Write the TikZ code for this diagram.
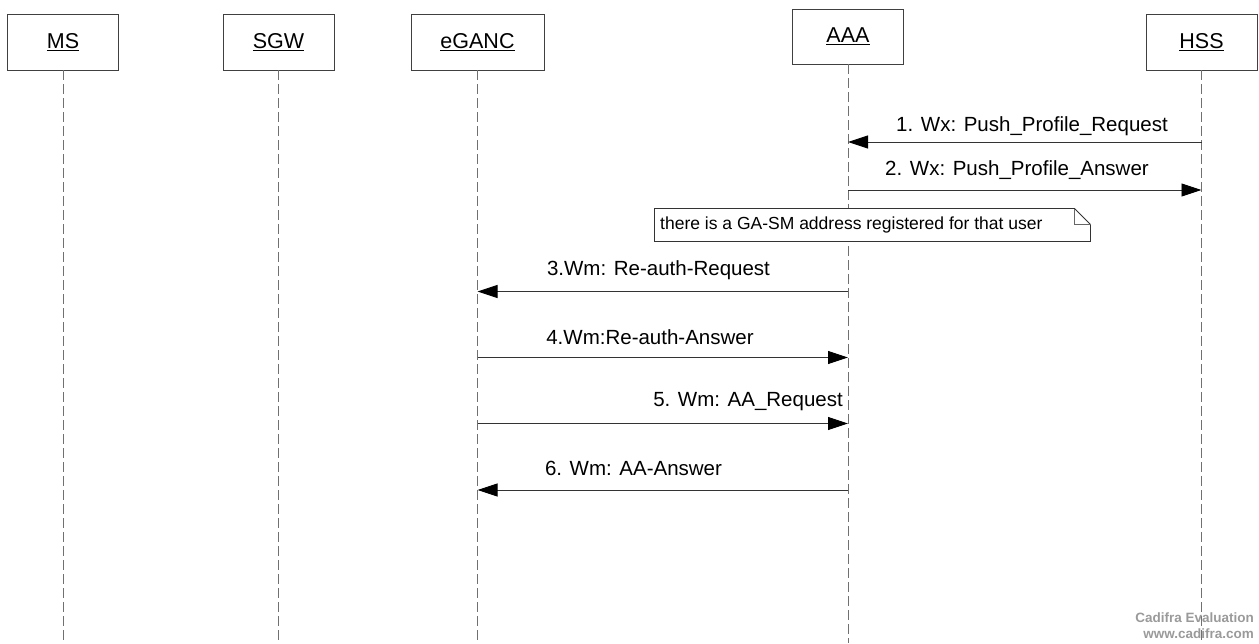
\documentclass[tikz,border=0pt]{standalone}
\usepackage{fontspec}
\setmainfont{Liberation Sans}
\usetikzlibrary{arrows.meta}
\definecolor{lifegray}{HTML}{707070}
\definecolor{wmgray}{HTML}{9A9A9A}
\tikzset{
  actor/.style={draw=black!75, line width=0.9pt, fill=white, minimum height=56pt, inner sep=0pt, font=\fontsize{21.5}{24}\selectfont},
  lifeline/.style={draw=lifegray, line width=0.9pt, dash pattern=on 10pt off 4pt},
  msg/.style={draw=black!80, line width=0.9pt, -{Triangle[length=20pt,width=13pt,fill=black,color=black]}},
  msglabel/.style={font=\fontsize{20.5}{24}\selectfont, inner sep=0pt, text=black},
  notebox/.style={draw=black!80, line width=0.9pt, fill=white},
  watermark/.style={font=\fontsize{13.5}{15}\selectfont\bfseries, text=wmgray, inner sep=0pt, anchor=east}
}
\begin{document}
\begin{tikzpicture}[x=1pt,y=-1pt]
\useasboundingbox (0,0) rectangle (1259,643);
% actors
\node[actor, minimum width=111pt] (ms) at (63,42) {\underline{MS}};
\node[actor, minimum width=111pt] (sgw) at (278.5,42) {\underline{SGW}};
\node[actor, minimum width=133pt] (eganc) at (477.5,42) {\underline{eGANC}};
\node[actor, minimum width=111pt, minimum height=55pt] (aaa) at (848,36.5) {\underline{AAA}};
\node[actor, minimum width=111pt] (hss) at (1201.5,42) {\underline{HSS}};
% lifeline ends
\coordinate (msE) at (63,643);
\coordinate (sgwE) at (278.5,643);
\coordinate (egancE) at (477.5,643);
\coordinate (aaaE) at (848,643);
\coordinate (hssE) at (1201.5,643);
\draw[lifeline] (ms.south) -- (msE);
\draw[lifeline] (sgw.south) -- (sgwE);
\draw[lifeline] (eganc.south) -- (egancE);
\draw[lifeline] (aaa.south) -- (aaaE);
\draw[lifeline] (hss.south) -- (hssE);
% message points
\coordinate (h1) at (1201.5,142); \coordinate (a1) at (848,142);
\coordinate (a2) at (848,190); \coordinate (h2) at (1201.5,190);
\coordinate (a3) at (848,291.5); \coordinate (e3) at (477.5,291.5);
\coordinate (e4) at (477.5,357.5); \coordinate (a4) at (848,357.5);
\coordinate (e5) at (477.5,423.5); \coordinate (a5) at (848,423.5);
\coordinate (a6) at (848,490); \coordinate (e6) at (477.5,490);
\draw[msg] (h1) -- (a1);
\draw[msg] (a2) -- (h2);
\draw[msg] (a3) -- (e3);
\draw[msg] (e4) -- (a4);
\draw[msg] (e5) -- (a5);
\draw[msg] (a6) -- (e6);
\node[msglabel] (l1) at (1032,126) {1. Wx: Push\_Profile\_Request};
\node[msglabel] (l2) at (1017,170) {2. Wx: Push\_Profile\_Answer};
\node[msglabel] (l3) at (658.5,270) {3.Wm: Re-auth-Request};
\node[msglabel] (l4) at (650,337) {4.Wm:Re-auth-Answer};
\node[msglabel, anchor=east] (l5) at (843,402) {5. Wm: AA\_Request};
\node[msglabel] (l6) at (633.5,468) {6. Wm: AA-Answer};
% note
\draw[notebox] (654.5,208.5) -- (1074.5,208.5) -- (1090.5,224.5) -- (1090.5,241.5) -- (654.5,241.5) -- cycle;
\draw[draw=black!60, line width=0.9pt] (1074.5,208.5) -- (1074.5,224.5) -- (1090.5,224.5);
\node[font=\fontsize{17.5}{20}\selectfont, inner sep=0pt, anchor=west] (note) at (660,225) {there is a GA-SM address registered for that user};
% watermark
\node[watermark] (wm1) at (1254,618) {Cadifra Evaluation};
\node[watermark] (wm2) at (1254,634) {www.cadifra.com};
\end{tikzpicture}
\end{document}
